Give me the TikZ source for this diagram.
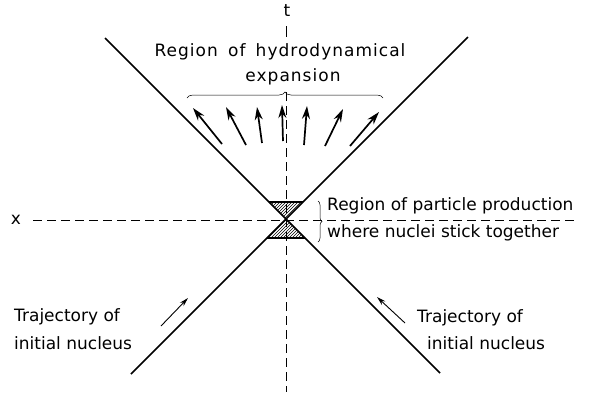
\documentclass[tikz,border=0pt]{standalone}
\usepackage{fontspec}
\setmainfont{DejaVu Sans}
\usetikzlibrary{arrows.meta,decorations.pathreplacing,patterns}
\tikzset{
  lbl/.style={inner sep=0pt,font=\fontsize{17}{20}\selectfont},
  wide/.style={font=\fontsize{17}{20}\selectfont\addfontfeatures{LetterSpace=6}},
  worldline/.style={line width=1.5pt},
  axisline/.style={line width=0.6pt,dash pattern=on 9pt off 5pt},
  flow/.style={line width=1.7pt,-{Stealth[length=13pt,width=8pt]}},
  brc/.style={line width=0.5pt,decorate,decoration={brace,amplitude=6pt}},
  hatch/.style={pattern=north east lines,draw,line width=0.6pt}
}
\begin{document}
\begin{tikzpicture}[x=1pt,y=-1pt]
\useasboundingbox (0,0) rectangle (598,392);
% key points
\coordinate (O) at (286,219);
\coordinate (L1a) at (105,38);
\coordinate (L1b) at (440,373);
\coordinate (L2a) at (468,37);
\coordinate (L2b) at (131,374);
% axes
\node[lbl] (t) at (287,11) {t};
\coordinate (tk1) at (286,26);
\coordinate (tk2) at (286,37);
\draw[line width=0.6pt] (tk1) -- (tk2);
\coordinate (vtop) at (286,92);
\coordinate (vbot) at (286,392);
\draw[axisline] (vtop) -- (vbot);
\node[lbl] (x) at (16,220) {x};
\coordinate (hl) at (33,220);
\coordinate (hr) at (574,220);
\draw[axisline] (hl) -- (hr);
% hatched regions
\coordinate (u1) at (269,202);
\coordinate (u2) at (303,202);
\coordinate (d1) at (267,238);
\coordinate (d2) at (305,238);
\draw[hatch] (O) -- (u1) -- (u2) -- cycle;
\draw[hatch] (O) -- (d1) -- (d2) -- cycle;
\draw[line width=1.4pt] (u1) -- (u2);
\draw[line width=1.4pt] (d1) -- (d2);
% world lines
\draw[worldline] (L1a) -- (L1b);
\draw[worldline] (L2a) -- (L2b);
% top labels
\node[lbl,wide] (hyd1) at (280,52) {Region\hspace{0.6em}of\hspace{0.6em}hydrodynamical};
\node[lbl,wide] (hyd2) at (293,77) {expansion};
\coordinate (b1) at (187,98);
\coordinate (b2) at (383,98);
\draw[brc] (b1) -- (b2);
% expansion arrows
\coordinate (a1s) at (222,144); \coordinate (a1e) at (193,108);
\coordinate (a2s) at (246,145); \coordinate (a2e) at (226,107);
\coordinate (a3s) at (262,143); \coordinate (a3e) at (257,107);
\coordinate (a4s) at (283,141); \coordinate (a4e) at (282,105);
\coordinate (a5s) at (304,145); \coordinate (a5e) at (307,106);
\coordinate (a6s) at (325,146); \coordinate (a6e) at (343,109);
\coordinate (a7s) at (350,146); \coordinate (a7e) at (379,112);
\foreach \i in {1,...,7} \draw[flow] (a\i s) -- (a\i e);
% particle production label
\coordinate (r1) at (318,201);
\coordinate (r2) at (318,242);
\draw[brc,decoration={brace,amplitude=4pt}] (r1) -- (r2);
\node[lbl,anchor=west] (pp1) at (327,206) {Region of particle production};
\node[lbl,anchor=west] (pp2) at (327,233) {where nuclei stick together};
% trajectories
\node[lbl,anchor=west] (tl1) at (14,317) {Trajectory of};
\node[lbl,anchor=west] (tl2) at (14,343) {initial nucleus};
\node[lbl,anchor=west] (tr1) at (417,318) {Trajectory of};
\node[lbl,anchor=west] (tr2) at (427,343) {initial nucleus};
\coordinate (ls) at (161,326); \coordinate (le) at (188,298);
\coordinate (rs) at (405,323); \coordinate (re) at (377,297);
\draw[line width=0.9pt,-{Stealth[length=9pt,width=5pt]}] (ls) -- (le);
\draw[line width=0.9pt,-{Stealth[length=9pt,width=5pt]}] (rs) -- (re);
\end{tikzpicture}
\end{document}
